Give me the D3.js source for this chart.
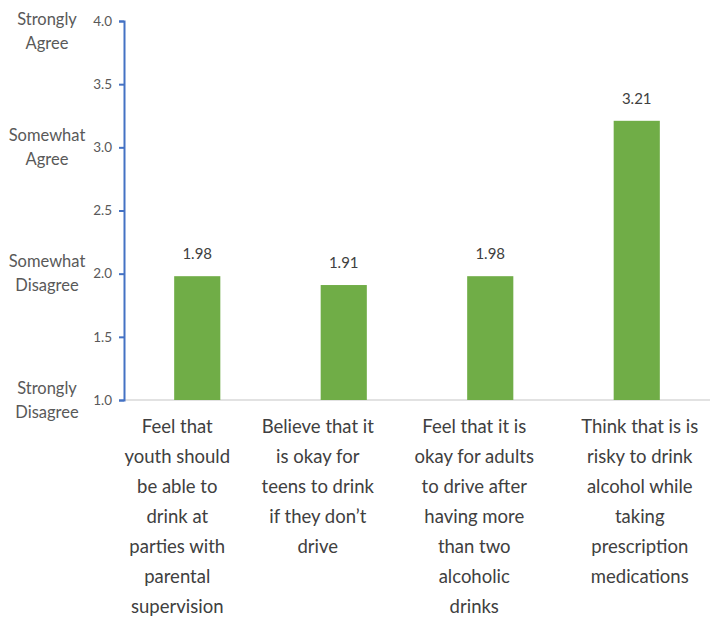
<!DOCTYPE html>
<html>
<head>
<meta charset="utf-8">
<script src="https://cdn.jsdelivr.net/npm/d3@7"></script>
<style>
  body { margin: 0; background: #fff; }
  svg { font-family: Lato, "Open Sans", sans-serif; }
</style>
</head>
<body>
<svg class="chart" width="710" height="622"></svg>
<script>
// data
const categories = [
  ["Feel that", "youth should", "be able to", "drink at", "parties with", "parental", "supervision"],
  ["Believe that it", "is okay for", "teens to drink", "if they don\u2019t", "drive"],
  ["Feel that it is", "okay for adults", "to drive after", "having more", "than two", "alcoholic", "drinks"],
  ["Think that is is", "risky to drink", "alcohol while", "taking", "prescription", "medications"]
];
const values = [1.98, 1.91, 1.98, 3.21];
const yTicks = [1.0, 1.5, 2.0, 2.5, 3.0, 3.5, 4.0];
const scaleLabels = [
  { at: 4, lines: ["Strongly", "Agree"] },
  { at: 3, lines: ["Somewhat", "Agree"] },
  { at: 2, lines: ["Somewhat", "Disagree"] },
  { at: 1, lines: ["Strongly", "Disagree"] }
];

// config
const plotLeft = 124;
const plotRight = 710;
const plotTop = 21;
const plotBottom = 400;
const labelShift = [-20, -26, -16, 3]; // text boxes sit a bit off the bar centres
const lineGap = 30;

const svg = d3.select("svg.chart");
const keys = categories.map((c, i) => i);

const x = d3.scaleBand()
  .domain(keys)
  .range([plotLeft, plotRight])
  .paddingInner(0.685)
  .paddingOuter(0.3425);

const y = d3.scaleLinear()
  .domain([1, 4])
  .range([plotBottom, plotTop]);

// baseline
svg.append("line")
  .attr("x1", plotLeft).attr("x2", plotRight)
  .attr("y1", y(1)).attr("y2", y(1))
  .attr("stroke", "#d9d9d9")
  .attr("stroke-width", 1.5);

// bars
svg.append("g")
  .selectAll("rect")
  .data(values)
  .join("rect")
  .attr("x", (d, i) => x(i))
  .attr("width", x.bandwidth())
  .attr("y", d => y(d))
  .attr("height", d => y(1) - y(d))
  .attr("fill", "#70ad47");

// value labels
svg.append("g")
  .selectAll("text")
  .data(values)
  .join("text")
  .attr("x", (d, i) => x(i) + x.bandwidth() / 2)
  .attr("y", d => y(d) - 17)
  .attr("text-anchor", "middle")
  .attr("font-size", 15)
  .attr("fill", "#404040")
  .text(d => d.toFixed(2));

// y axis
const gy = svg.append("g")
  .attr("transform", `translate(${plotLeft},0)`)
  .call(d3.axisLeft(y)
    .tickValues(yTicks)
    .tickFormat(d3.format(".1f"))
    .tickSize(5)
    .tickPadding(7));

gy.select(".domain").attr("stroke", "#4472c4").attr("stroke-width", 2);
gy.selectAll(".tick line").attr("stroke", "#4472c4").attr("stroke-width", 2);
gy.selectAll(".tick text")
  .attr("fill", "#595959")
  .attr("font-size", 13.5)
  .attr("font-family", "Lato, sans-serif");

// agree / disagree labels
const sl = svg.append("g").attr("class", "scale-labels");
scaleLabels.forEach(s => {
  const mid = Math.max(y(s.at), 31);
  s.lines.forEach((t, k) => {
    sl.append("text")
      .attr("x", 47)
      .attr("y", mid + (k - 0.5) * 24)
      .attr("dy", "0.35em")
      .attr("text-anchor", "middle")
      .attr("font-size", 16.5)
      .attr("fill", "#595959")
      .text(t);
  });
});

// category labels
const cl = svg.append("g").attr("class", "cat-labels");
categories.forEach((lines, i) => {
  const cx = x(i) + x.bandwidth() / 2 + labelShift[i];
  lines.forEach((t, k) => {
    cl.append("text")
      .attr("x", cx)
      .attr("y", 427 + k * lineGap)
      .attr("dy", "0.35em")
      .attr("text-anchor", "middle")
      .attr("font-size", 18.5)
      .attr("fill", "#404040")
      .text(t);
  });
});
</script>
</body>
</html>
